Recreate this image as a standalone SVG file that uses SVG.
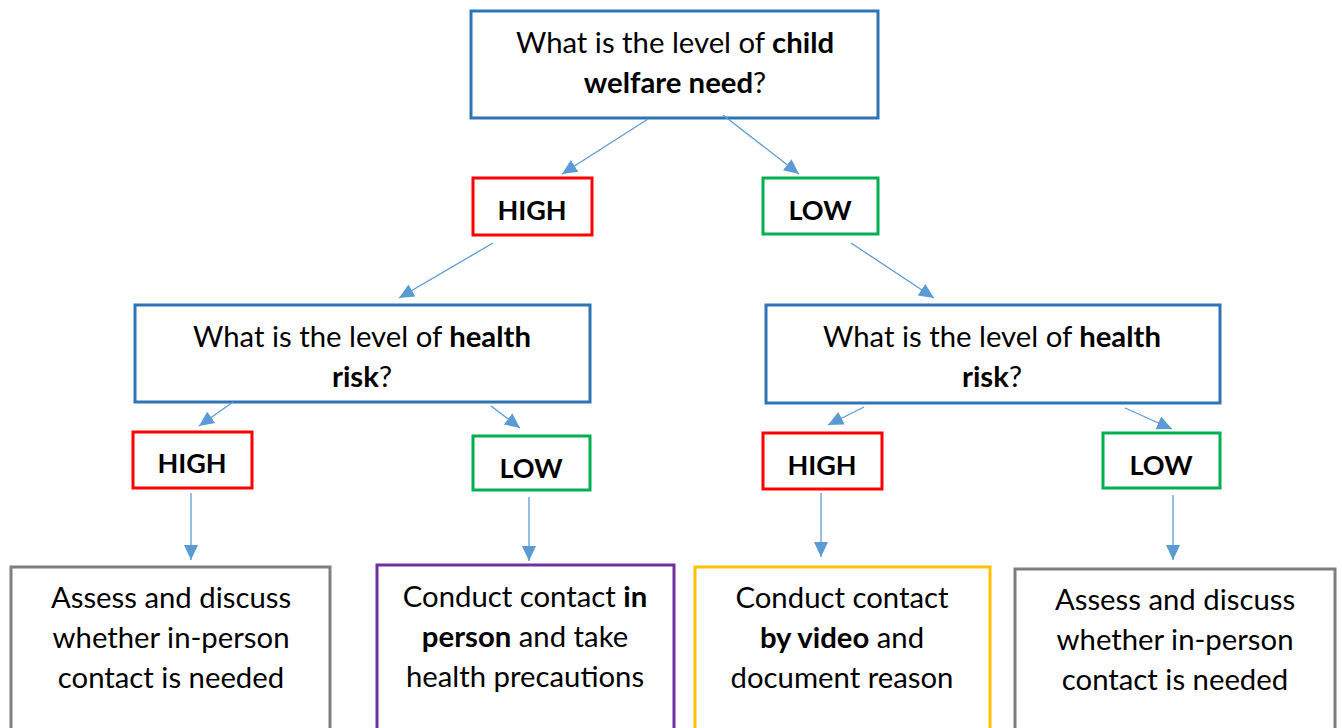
<svg xmlns="http://www.w3.org/2000/svg" width="1342" height="728" viewBox="0 0 1342 728">
<style>
.box{fill:#fff;stroke-width:3}
.q{stroke:#2E75B6}
.hi{stroke:#FF0000}
.lo{stroke:#00B050}
.gr{stroke:#7F7F7F}
.pu{stroke:#7030A0}
.ye{stroke:#FFC000}
text{font-family:Lato,"Liberation Sans",sans-serif;font-size:29.3px;fill:#000;text-anchor:middle}
.b{font-weight:bold}
.lbl{font-size:27px;font-weight:bold}
.conn{stroke:#5B9BD5;stroke-width:1.3;fill:none;marker-end:url(#ah)}
</style>
<defs>
<marker id="ah" markerUnits="userSpaceOnUse" markerWidth="16" markerHeight="16" viewBox="0 0 16 16" refX="15" refY="8" orient="auto">
<path d="M0,1 L15,8 L0,15 z" fill="#5B9BD5"/>
</marker>
</defs>
<rect width="1342" height="728" fill="#fff"/>
<g id="q1">
<rect class="box q" x="471" y="11" width="407" height="107"/>
<text x="675" y="53">What is the level of <tspan class="b">child</tspan></text>
<text x="675" y="93"><tspan class="b">welfare need</tspan>?</text>
</g>
<g id="high1">
<rect class="box hi" x="473" y="178" width="119" height="57"/>
<text class="lbl" x="532" y="220">HIGH</text>
</g>
<g id="low1">
<rect class="box lo" x="763" y="178" width="115" height="56"/>
<text class="lbl" x="820" y="220">LOW</text>
</g>
<g id="q2">
<rect class="box q" x="135" y="305" width="455" height="97"/>
<text x="362" y="347">What is the level of <tspan class="b">health</tspan></text>
<text x="362" y="387"><tspan class="b">risk</tspan>?</text>
</g>
<g id="q3">
<rect class="box q" x="766" y="305" width="454" height="98"/>
<text x="992" y="347">What is the level of <tspan class="b">health</tspan></text>
<text x="992" y="387"><tspan class="b">risk</tspan>?</text>
</g>
<g id="high2">
<rect class="box hi" x="133" y="432" width="119" height="56"/>
<text class="lbl" x="192" y="473">HIGH</text>
</g>
<g id="low2">
<rect class="box lo" x="473" y="436" width="117" height="54"/>
<text class="lbl" x="531" y="478">LOW</text>
</g>
<g id="high3">
<rect class="box hi" x="763" y="433" width="119" height="56"/>
<text class="lbl" x="822" y="475">HIGH</text>
</g>
<g id="low3">
<rect class="box lo" x="1103" y="433" width="117" height="55"/>
<text class="lbl" x="1161" y="475">LOW</text>
</g>
<g id="outA">
<rect class="box gr" x="11" y="567" width="319" height="175"/>
<text x="171" y="608">Assess and discuss</text>
<text x="171" y="648">whether in-person</text>
<text x="171" y="688">contact is needed</text>
</g>
<g id="outB">
<rect class="box pu" x="377" y="565" width="297" height="175"/>
<text x="525" y="607">Conduct contact <tspan class="b">in</tspan></text>
<text x="525" y="647"><tspan class="b">person</tspan> and take</text>
<text x="525" y="687">health precautions</text>
</g>
<g id="outC">
<rect class="box ye" x="695" y="567" width="295" height="175"/>
<text x="842" y="608">Conduct contact</text>
<text x="842" y="648"><tspan class="b">by video</tspan> and</text>
<text x="842" y="688">document reason</text>
</g>
<g id="outD">
<rect class="box gr" x="1015" y="569" width="320" height="175"/>
<text x="1175" y="610">Assess and discuss</text>
<text x="1175" y="650">whether in-person</text>
<text x="1175" y="690">contact is needed</text>
</g>
<g id="connectors">
<path class="conn" d="M648,119 L562,174"/>
<path class="conn" d="M723,115 L799,174"/>
<path class="conn" d="M493,243 L399,298"/>
<path class="conn" d="M851,243 L934,298"/>
<path class="conn" d="M233,402 L199,426"/>
<path class="conn" d="M491,406 L520,428"/>
<path class="conn" d="M864,407 L828,425"/>
<path class="conn" d="M1125,408 L1172,429"/>
<path class="conn" d="M191,493 L191,560"/>
<path class="conn" d="M529,497 L529,561"/>
<path class="conn" d="M821,493 L821,557"/>
<path class="conn" d="M1173,495 L1173,560"/>
</g>
</svg>
